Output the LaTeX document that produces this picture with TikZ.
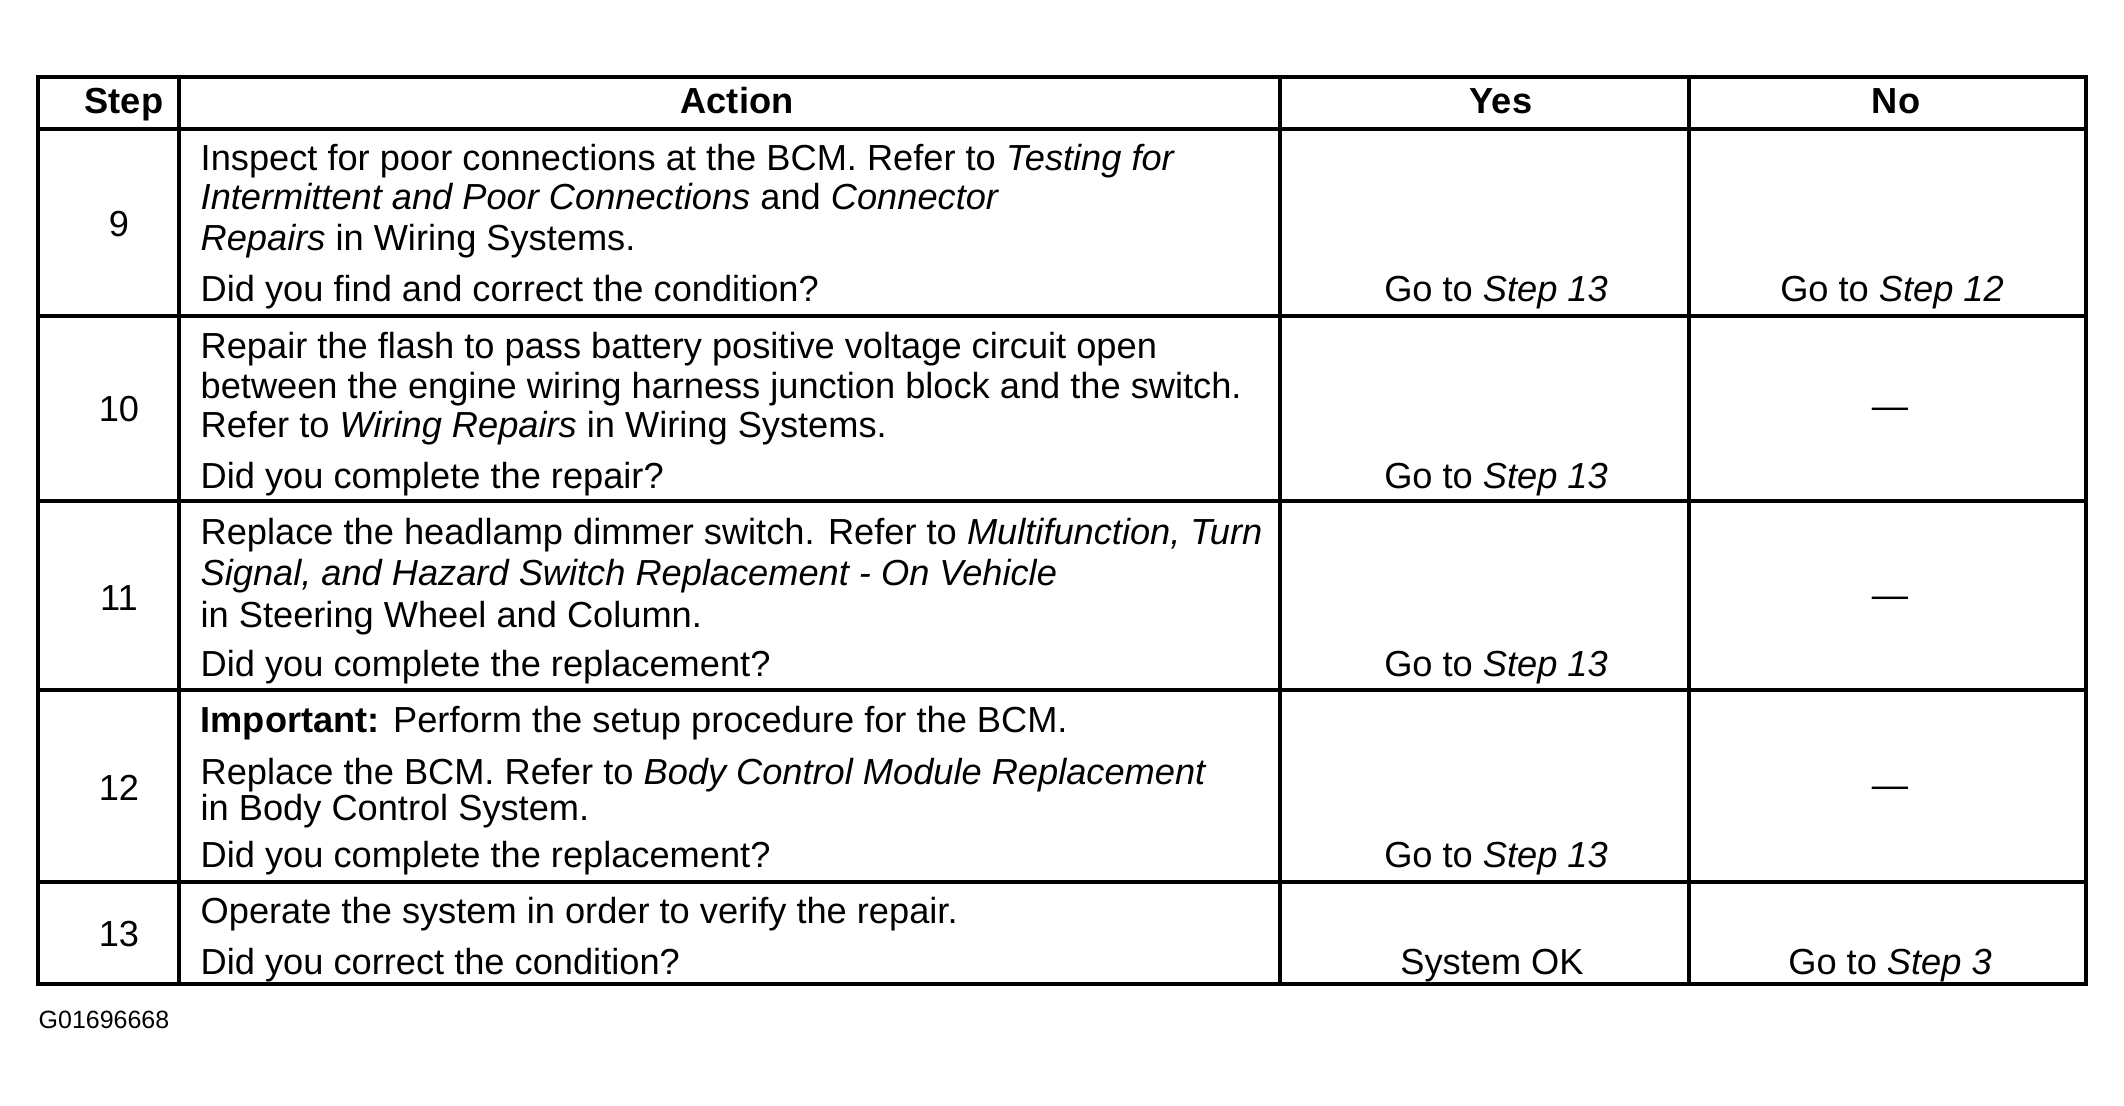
\documentclass[tikz,border=0pt]{standalone}
\usepackage{fontspec}
\setmainfont{Liberation Sans}
\begin{document}
\begin{tikzpicture}[x=0.01cm,y=-0.01cm,
  txt/.style={anchor=base west,inner sep=0pt,font=\fontsize{10.3}{12}\selectfont},
  ctr/.style={anchor=base,inner sep=0pt,font=\fontsize{10.3}{12}\selectfont},
  num/.style={anchor=center,inner sep=0pt,font=\fontsize{10.3}{12}\selectfont},
  hdr/.style={anchor=base,inner sep=0pt,font=\fontsize{10.3}{12}\selectfont\bfseries},
  outer/.style={line width=1.4pt},
  inner/.style={line width=0.9pt}]
\useasboundingbox (0,0) rectangle (2124,1105);
% grid
\draw[inner] (38,316) -- (2086,316);
\draw[inner] (38,501) -- (2086,501);
\draw[inner] (38,690) -- (2086,690);
\draw[inner] (38,882) -- (2086,882);
\draw[inner] (179,77) -- (179,984);
\draw[inner] (1280,77) -- (1280,984);
\draw[inner] (1689,77) -- (1689,984);
\draw[outer] (38,129) -- (2086,129);
\draw[outer] (38,77) rectangle (2086,984);
% header
\node[hdr] (hstep) at (124,113) {Step};
\node[hdr] (hact) at (737,113) {Action};
\node[hdr] (hyes) at (1501,113) {Yes};
\node[hdr] (hno) at (1896,113) {No};
% row 9
\node[num] (s9) at (119,224) {9};
\node[txt] (a9a) at (200,170) {Inspect for poor connections at the BCM. Refer to \textit{Testing for}};
\node[txt] (a9b) at (200,209) {\textit{Intermittent and Poor Connections} and \textit{Connector}};
\node[txt] (a9c) at (200,250) {\textit{Repairs} in Wiring Systems.};
\node[txt] (a9d) at (200,301) {Did you find and correct the condition?};
\node[ctr] (y9) at (1496,301) {Go to \textit{Step 13}};
\node[ctr] (n9) at (1892,301) {Go to \textit{Step 12}};
% row 10
\node[num] (s10) at (119,409) {10};
\node[txt] (a10a) at (200,358) {Repair the flash to pass battery positive voltage circuit open};
\node[txt] (a10b) at (200,398) {between the engine wiring harness junction block and the switch.};
\node[txt] (a10c) at (200,437) {Refer to \textit{Wiring Repairs} in Wiring Systems.};
\node[txt] (a10d) at (200,488) {Did you complete the repair?};
\node[ctr] (y10) at (1496,488) {Go to \textit{Step 13}};
\node[num] (n10) at (1890,413) {—};
% row 11
\node[num] (s11) at (119,598) {11};
\node[txt] (a11a) at (200,544) {Replace the headlamp dimmer switch. Refer to \textit{Multifunction, Turn}};
\node[txt] (a11b) at (200,585) {\textit{Signal, and Hazard Switch Replacement - On Vehicle}};
\node[txt] (a11c) at (200,627) {in Steering Wheel and Column.};
\node[txt] (a11d) at (200,676) {Did you complete the replacement?};
\node[ctr] (y11) at (1496,676) {Go to \textit{Step 13}};
\node[num] (n11) at (1890,602) {—};
% row 12
\node[num] (s12) at (119,788) {12};
\node[txt] (a12a) at (200,732) {\textbf{Important:} Perform the setup procedure for the BCM.};
\node[txt] (a12b) at (200,784) {Replace the BCM. Refer to \textit{Body Control Module Replacement}};
\node[txt] (a12c) at (200,820) {in Body Control System.};
\node[txt] (a12d) at (200,867) {Did you complete the replacement?};
\node[ctr] (y12) at (1496,867) {Go to \textit{Step 13}};
\node[num] (n12) at (1890,792) {—};
% row 13
\node[num] (s13) at (119,934) {13};
\node[txt] (a13a) at (200,923) {Operate the system in order to verify the repair.};
\node[txt] (a13b) at (200,974) {Did you correct the condition?};
\node[ctr] (y13) at (1492,974) {System OK};
\node[ctr] (n13) at (1890,974) {Go to \textit{Step 3}};
% caption
\node[anchor=west,inner sep=0pt,font=\fontsize{7.1}{8}\selectfont] (cap) at (38,1020) {G01696668};
\end{tikzpicture}
\end{document}
